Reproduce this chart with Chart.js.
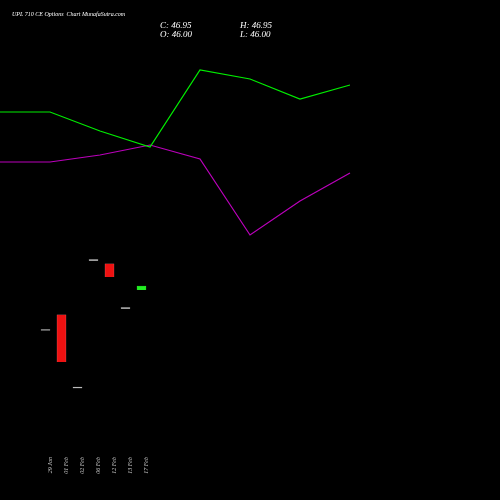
<!DOCTYPE html>
<html>
<head>
<script src="https://cdn.jsdelivr.net/npm/chart.js@4"></script>
<style>
  html, body { margin: 0; padding: 0; background: #000; }
  #wrap { width: 500px; height: 500px; }
</style>
</head>
<body>
<div id="wrap"><canvas id="chart"></canvas></div>
<script>
// Candle data
const dates = ["29 Jan", "01 Feb", "02 Feb", "06 Feb", "12 Feb", "13 Feb", "17 Feb"];
const opens = [36.5, 40.1, 22.8, 53.1, 52.2, 41.7, 46.0];
const closes = [36.5, 28.9, 22.8, 53.1, 49.1, 41.7, 46.95];

// Indicator lines (arbitrary scale)
const greenLine = [333, 333, 314, 298, 375, 366, 346, 360];
const purpleLine = [283, 283, 290, 300, 286, 210, 244, 272];

const headerText = "UPL 710 CE Options  Chart MunafaSutra.com";

const candleData = dates.map((d, i) => {
  const o = opens[i], c = closes[i];
  return { x: i, y: o === c ? [o - 0.12, o + 0.12] : [o, c] };
});
const candleColors = dates.map((d, i) =>
  opens[i] === closes[i] ? "#bbbbbb" : closes[i] > opens[i] ? "#22ee22" : "#ee1111");

const header = {
  id: "header",
  afterDraw(chart) {
    const ctx = chart.ctx;
    ctx.save();
    ctx.fillStyle = "#ffffff";
    ctx.font = "italic 6px 'Liberation Serif'";
    ctx.fillText(headerText, 12, 16);
    ctx.font = "italic 9px 'Liberation Serif'";
    ctx.fillText("C: " + closes[6].toFixed(2), 160, 28);
    ctx.fillText("O: " + opens[6].toFixed(2), 160, 37);
    ctx.fillText("H: 46.95", 240, 28);
    ctx.fillText("L: 46.00", 240, 37);
    ctx.restore();
  }
};

new Chart(document.getElementById("chart"), {
  data: {
    datasets: [
      {
        type: "bar",
        data: candleData,
        backgroundColor: candleColors,
        borderColor: candleColors.map(c => c === "#ee1111" ? "#ff8888" : c),
        borderWidth: 0.5,
        barThickness: 9,
        xAxisID: "x",
        yAxisID: "y"
      },
      {
        type: "line",
        data: greenLine.map((v, i) => ({ x: i, y: v })),
        borderColor: "#00ee00",
        borderWidth: 1.2,
        pointRadius: 0,
        xAxisID: "x2",
        yAxisID: "y2"
      },
      {
        type: "line",
        data: purpleLine.map((v, i) => ({ x: i, y: v })),
        borderColor: "#bb00bb",
        borderWidth: 1.2,
        pointRadius: 0,
        xAxisID: "x2",
        yAxisID: "y2"
      }
    ]
  },
  options: {
    responsive: true,
    maintainAspectRatio: false,
    animation: false,
    layout: { padding: 0 },
    plugins: { legend: { display: false }, tooltip: { enabled: false } },
    scales: {
      x: {
        type: "linear",
        offset: false,
        min: -3.125,
        max: 28.125,
        afterBuildTicks: axis => { axis.ticks = dates.map((d, i) => ({ value: i })); },
        afterFit: axis => { axis.height = 55; },
        ticks: {
          autoSkip: false,
          maxRotation: 90,
          minRotation: 90,
          padding: 4,
          color: "#cccccc",
          font: { size: 6, family: "Liberation Serif", style: "italic" },
          callback: v => dates[v]
        },
        grid: { display: false },
        border: { display: false }
      },
      x2: { type: "linear", offset: false, min: 0, max: 10, display: false },
      y: { min: 9.19, max: 114.9, display: false },
      y2: { min: 0, max: 445, display: false }
    }
  },
  plugins: [header]
});
</script>
</body>
</html>
